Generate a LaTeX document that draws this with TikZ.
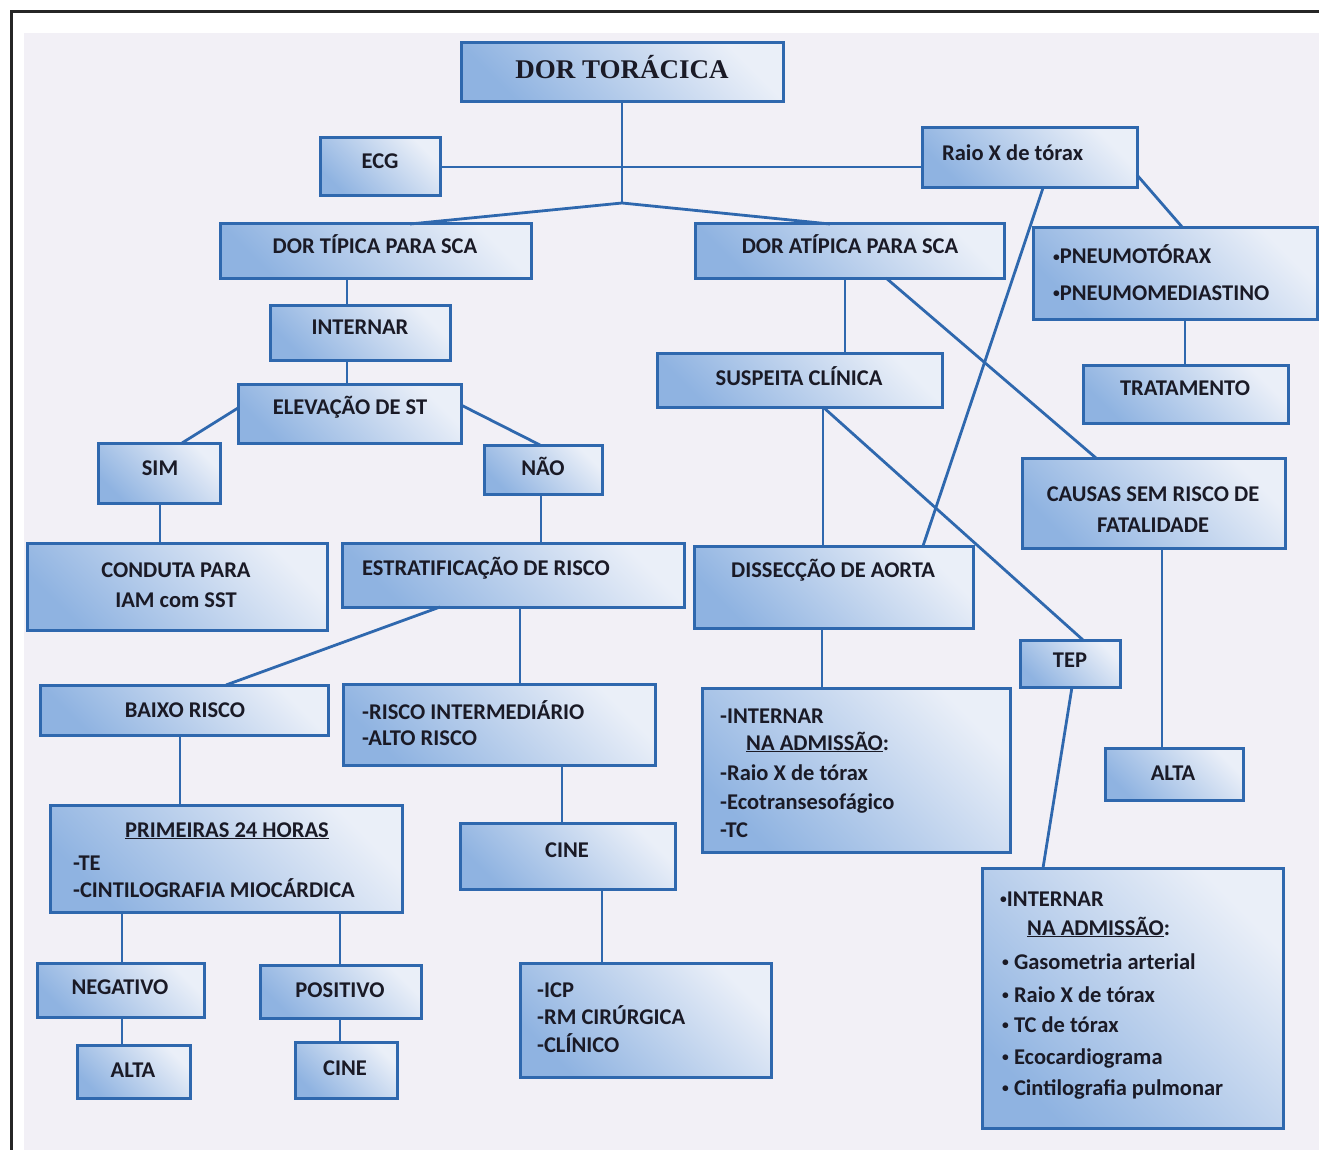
\documentclass[tikz,border=0pt]{standalone}
\usepackage{fontspec}
\setmainfont{Carlito}
\newfontfamily\titlefont{Liberation Serif}
\usetikzlibrary{calc}

\definecolor{edgeblue}{HTML}{2F68AE}
\definecolor{fillhi}{HTML}{EAEFF8}
\definecolor{filllo}{HTML}{8FB3E1}
\definecolor{paper}{HTML}{F2F0F6}
\definecolor{ink}{HTML}{1A1A26}

\tikzset{
  flow/.style={draw=edgeblue, line width=3pt, top color=filllo, bottom color=fillhi,
               shading angle=135, inner sep=0pt, outer sep=0pt},
  link/.style={draw=edgeblue, line width=2.8pt},
  lbl/.style={font=\bfseries\fontsize{22.5}{24}\selectfont, text=ink, inner sep=0pt,
              anchor=base, yshift=-7pt},
  lbll/.style={lbl, anchor=base west},
  ttl/.style={font=\titlefont\bfseries\fontsize{27}{29}\selectfont, text=ink, inner sep=0pt,
              anchor=base, yshift=-9pt},
}

% small list bullet
\newcommand\smbul{\raisebox{0.12em}{\scalebox{0.6}{•}}}

% box from its corners (x1,y1) to (x2,y2)
\newcommand\flowbox[5]{%
  \node[flow, minimum width={(#4)-(#2)}, minimum height={(#5)-(#3)}]
    (#1) at ({((#2)+(#4))/2},{((#3)+(#5))/2}) {};}

\begin{document}
\begin{tikzpicture}[x=1pt,y=-1pt]
\useasboundingbox (0,0) rectangle (1319,1150);
\fill[white] (0,0) rectangle (1319,1150);
\fill[paper] (24,33) rectangle (1319,1150);
\draw[line width=3pt, black!85] (11,1150) -- (11,12) -- (1319,12);

% ---- boxes ----
\flowbox{torac}{461}{43}{783}{102}
\flowbox{ecg}{320}{138}{440}{196}
\flowbox{raiox}{922}{128}{1137}{188}
\flowbox{tipica}{220}{224}{531}{278}
\flowbox{atipica}{695}{224}{1004}{278}
\flowbox{pneumo}{1033}{228}{1317}{319}
\flowbox{tratamento}{1083}{365}{1288}{423}
\flowbox{internar}{270}{305}{450}{360}
\flowbox{elevacao}{238}{384}{461}{443}
\flowbox{sim}{98}{443}{220}{503}
\flowbox{nao}{484}{445}{602}{494}
\flowbox{conduta}{27}{543}{327}{630}
\flowbox{estrat}{342}{543}{684}{607}
\flowbox{suspeita}{657}{353}{942}{407}
\flowbox{causas}{1022}{458}{1285}{548}
\flowbox{disseccao}{694}{546}{973}{628}
\flowbox{tep}{1020}{640}{1120}{687}
\flowbox{baixo}{40}{685}{328}{735}
\flowbox{riscoint}{343}{684}{655}{765}
\flowbox{intdiss}{702}{688}{1010}{852}
\flowbox{altaR}{1105}{748}{1243}{800}
\flowbox{primeiras}{50}{805}{402}{912}
\flowbox{cineM}{460}{823}{675}{889}
\flowbox{inttep}{982}{868}{1283}{1128}
\flowbox{negativo}{37}{963}{204}{1017}
\flowbox{positivo}{260}{965}{421}{1018}
\flowbox{icp}{520}{963}{771}{1077}
\flowbox{altaL}{77}{1045}{190}{1098}
\flowbox{cineL}{295}{1042}{397}{1098}

% ---- connectors ----
\coordinate (apex) at (622,203);
\draw[link] (torac.south) -- (apex);
\draw[link] (410,0 |- tipica.north) -- (apex) -- (830,0 |- atipica.north);
\draw[link] (ecg.east |- 0,167) -- (raiox.west |- 0,167);
\draw[link] (raiox.east |- 0,175) -- (1183,0 |- pneumo.north);
\draw[link] (1043,0 |- raiox.south) -- (923,0 |- disseccao.north);
\draw[link] (1185,0 |- pneumo.south) -- (1185,0 |- tratamento.north);
\draw[link] (347,0 |- tipica.south) -- (347,0 |- internar.north);
\draw[link] (347,0 |- internar.south) -- (347,0 |- elevacao.north);
\draw[link] (elevacao.west |- 0,408) -- (182,0 |- sim.north);
\draw[link] (elevacao.east |- 0,405) -- (540,0 |- nao.north);
\draw[link] (160,0 |- sim.south) -- (160,0 |- conduta.north);
\draw[link] (541,0 |- nao.south) -- (541,0 |- estrat.north);
\draw[link] (440,0 |- estrat.south) -- (226,0 |- baixo.north);
\draw[link] (520,0 |- estrat.south) -- (520,0 |- riscoint.north);
\draw[link] (180,0 |- baixo.south) -- (180,0 |- primeiras.north);
\draw[link] (562,0 |- riscoint.south) -- (562,0 |- cineM.north);
\draw[link] (122,0 |- primeiras.south) -- (122,0 |- negativo.north);
\draw[link] (340,0 |- primeiras.south) -- (340,0 |- positivo.north);
\draw[link] (122,0 |- negativo.south) -- (122,0 |- altaL.north);
\draw[link] (340,0 |- positivo.south) -- (340,0 |- cineL.north);
\draw[link] (602,0 |- cineM.south) -- (602,0 |- icp.north);
\draw[link] (845,0 |- atipica.south) -- (845,0 |- suspeita.north);
\draw[link] (886,0 |- atipica.south) -- (1096,0 |- causas.north);
\draw[link] (823,0 |- suspeita.south) -- (823,0 |- disseccao.north);
\draw[link] (823,0 |- suspeita.south) -- (1083,0 |- tep.north);
\draw[link] (822,0 |- disseccao.south) -- (822,0 |- intdiss.north);
\draw[link] (1072,0 |- tep.south) -- (1043,0 |- inttep.north);
\draw[link] (1162,0 |- causas.south) -- (1162,0 |- altaR.north);

% ---- texts ----
\node[ttl] (t-torac) at (622,70) {DOR TORÁCICA};
\node[lbl] (t-ecg) at (380,162) {ECG};
\node[lbll] (t-raiox) at (942,154) {Raio X de tórax};
\node[lbl] (t-tipica) at (375,247) {DOR TÍPICA PARA SCA};
\node[lbl] (t-atipica) at (850,247) {DOR ATÍPICA PARA SCA};
\node[lbll] (t-pn1) at (1053,257) {\smbul PNEUMOTÓRAX};
\node[lbll] (t-pn2) at (1053,293) {\smbul PNEUMOMEDIASTINO};
\node[lbl] (t-internar) at (360,327) {INTERNAR};
\node[lbl] (t-elev) at (350,407) {ELEVAÇÃO DE ST};
\node[lbl] (t-susp) at (799,378) {SUSPEITA CLÍNICA};
\node[lbl] (t-trat) at (1185,388) {TRATAMENTO};
\node[lbl] (t-sim) at (160,468) {SIM};
\node[lbl] (t-nao) at (543,468) {NÃO};
\node[lbl] (t-caus1) at (1153,494) {CAUSAS SEM RISCO DE};
\node[lbl] (t-caus2) at (1153,525) {FATALIDADE};
\node[lbl] (t-cond1) at (176,570) {CONDUTA PARA};
\node[lbl] (t-cond2) at (176,600) {IAM com SST};
\node[lbll] (t-estrat) at (362,568) {ESTRATIFICAÇÃO DE RISCO};
\node[lbl] (t-dissec) at (833,570) {DISSECÇÃO DE AORTA};
\node[lbl] (t-tep) at (1070,660) {TEP};
\node[lbl] (t-baixo) at (185,710) {BAIXO RISCO};
\node[lbll] (t-ri1) at (362,712) {-RISCO INTERMEDIÁRIO};
\node[lbll] (t-ri2) at (362,738) {-ALTO RISCO};
\node[lbll] (t-id1) at (720,716) {-INTERNAR};
\node[lbll] (t-id2) at (746,743) {\underline{NA ADMISSÃO}:};
\node[lbll] (t-id3) at (720,773) {-Raio X de tórax};
\node[lbll] (t-id4) at (720,802) {-Ecotransesofágico};
\node[lbll] (t-id5) at (720,830) {-TC};
\node[lbl] (t-altaR) at (1173,773) {ALTA};
\node[lbl] (t-prim) at (227,830) {\underline{PRIMEIRAS 24 HORAS}};
\node[lbll] (t-te) at (73,863) {-TE};
\node[lbll] (t-cint) at (73,890) {-CINTILOGRAFIA MIOCÁRDICA};
\node[lbl] (t-cineM) at (567,850) {CINE};
\node[lbll] (t-it1) at (1000,899) {\smbul INTERNAR};
\node[lbll] (t-it2) at (1027,928) {\underline{NA ADMISSÃO}:};
\node[lbll] (t-it3) at (1002,962) {\smbul{} Gasometria arterial};
\node[lbll] (t-it4) at (1002,995) {\smbul{} Raio X de tórax};
\node[lbll] (t-it5) at (1002,1025) {\smbul{} TC de tórax};
\node[lbll] (t-it6) at (1002,1057) {\smbul{} Ecocardiograma};
\node[lbll] (t-it7) at (1002,1088) {\smbul{} Cintilografia pulmonar};
\node[lbl] (t-neg) at (120,987) {NEGATIVO};
\node[lbl] (t-pos) at (340,990) {POSITIVO};
\node[lbll] (t-icp1) at (537,990) {-ICP};
\node[lbll] (t-icp2) at (537,1017) {-RM CIRÚRGICA};
\node[lbll] (t-icp3) at (537,1045) {-CLÍNICO};
\node[lbl] (t-altaL) at (133,1070) {ALTA};
\node[lbl] (t-cineL) at (345,1068) {CINE};
\end{tikzpicture}
\end{document}
